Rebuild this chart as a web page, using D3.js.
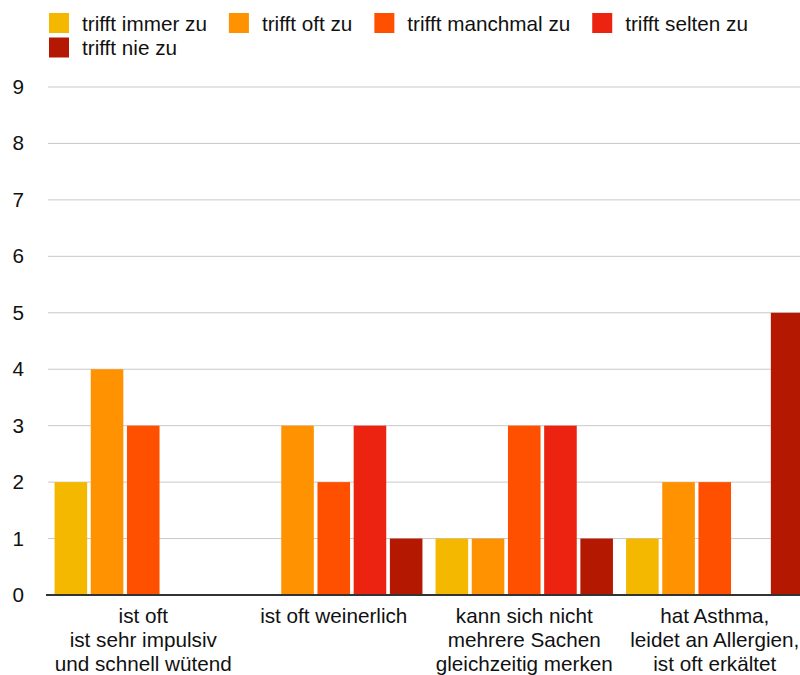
<!DOCTYPE html>
<html>
<head>
<meta charset="utf-8">
<script src="https://cdn.jsdelivr.net/npm/d3@7"></script>
<style>
  html, body { margin: 0; padding: 0; background: #fff; }
  svg { display: block; font-family: "Liberation Sans", Helvetica, Arial, sans-serif; }
</style>
</head>
<body>
<svg id="chart" width="800" height="675"></svg>
<script>
// Categories (multi-line labels)
const categories = [
  ["ist oft", "ist sehr impulsiv", "und schnell wütend"],
  ["ist oft weinerlich"],
  ["kann sich nicht", "mehrere Sachen", "gleichzeitig merken"],
  ["hat Asthma,", "leidet an Allergien,", "ist oft erkältet"]
];
const seriesNames = ["trifft immer zu", "trifft oft zu", "trifft manchmal zu", "trifft selten zu", "trifft nie zu"];
const seriesColors = ["#F5B800", "#FF9200", "#FF5000", "#EB2310", "#B41800"];

// Values per series, one entry per category
const immerZu    = [2, 0, 1, 1];
const oftZu      = [4, 3, 1, 2];
const manchmalZu = [3, 2, 3, 2];
const seltenZu   = [0, 3, 3, 0];
const nieZu      = [0, 1, 1, 5];
const seriesValues = [immerZu, oftZu, manchmalZu, seltenZu, nieZu];

const yTicks = [0, 1, 2, 3, 4, 5, 6, 7, 8, 9];

const svg = d3.select("#chart");
const W = 800;
const FS = 20.7;

const catKeys = categories.map((c, i) => i);
const x0 = d3.scaleBand().domain(catKeys).range([48, 810]).paddingInner(0).paddingOuter(0);
const x1 = d3.scaleBand().domain(d3.range(seriesNames.length))
  .range([0, x0.bandwidth()]).paddingInner(0.1).paddingOuter(0.181);
const y = d3.scaleLinear().domain([0, 9]).range([595, 87]);

// Gridlines
svg.append("g")
  .selectAll("line")
  .data(yTicks.filter(d => d > 0))
  .join("line")
  .attr("x1", 48).attr("x2", W)
  .attr("y1", d => y(d)).attr("y2", d => y(d))
  .attr("stroke", "#c9c9c9").attr("stroke-width", 1);

// Y tick labels
svg.append("g")
  .selectAll("text")
  .data(yTicks)
  .join("text")
  .attr("x", 24).attr("y", d => y(d) + 7)
  .attr("text-anchor", "end")
  .attr("font-size", FS).attr("fill", "#111")
  .text(d => d);

// Bars
const groups = svg.append("g")
  .selectAll("g")
  .data(catKeys)
  .join("g")
  .attr("transform", d => `translate(${x0(d)},0)`);

groups.selectAll("rect")
  .data(ci => seriesValues.map((vals, si) => ({ si, v: vals[ci] })))
  .join("rect")
  .attr("x", d => x1(d.si))
  .attr("width", x1.bandwidth())
  .attr("y", d => y(d.v))
  .attr("height", d => y(0) - y(d.v))
  .attr("fill", d => seriesColors[d.si]);

// Baseline
svg.append("line")
  .attr("x1", 46).attr("x2", W)
  .attr("y1", y(0)).attr("y2", y(0))
  .attr("stroke", "#333").attr("stroke-width", 2);

// Category labels
const labels = svg.append("g")
  .selectAll("text")
  .data(catKeys)
  .join("text")
  .attr("text-anchor", "middle")
  .attr("font-size", FS).attr("fill", "#111")
  .attr("x", d => x0(d) + x0.bandwidth() / 2)
  .attr("y", 623);
labels.selectAll("tspan")
  .data(d => categories[d])
  .join("tspan")
  .attr("x", function () { return d3.select(this.parentNode).attr("x"); })
  .attr("dy", (d, i) => i === 0 ? 0 : 24)
  .text(d => d);

// Legend (flowing, wraps)
const legend = svg.append("g");
let lx = 49, ly = 13;
seriesNames.forEach((name, i) => {
  const item = legend.append("g");
  item.append("rect").attr("width", 20).attr("height", 20).attr("fill", seriesColors[i]);
  const t = item.append("text").attr("x", 33).attr("y", 17.5)
    .attr("font-size", FS).attr("fill", "#111").text(name);
  const w = 33 + t.node().getComputedTextLength();
  if (lx + w > W - 20) { lx = 49; ly += 24.5; }
  item.attr("transform", `translate(${lx},${ly})`);
  lx += w + 22;
});
</script>
</body>
</html>
